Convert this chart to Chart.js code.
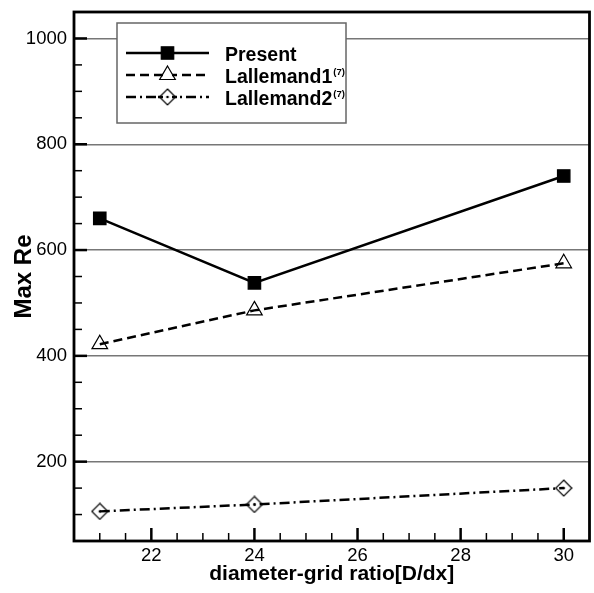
<!DOCTYPE html>
<html>
<head>
<meta charset="utf-8">
<script src="https://cdn.jsdelivr.net/npm/chart.js@4.4.0/dist/chart.umd.min.js"></script>
<style>
    html, body { margin: 0; padding: 0; background: #fff; overflow: hidden; }
    canvas { display: block; }
</style>
</head>
<body>
<canvas id="reChart" width="594" height="593"></canvas>
<script>
const ratios = [21, 24, 30];
const presentRe = [660, 538, 740];
const lallemand1Re = [422, 486, 575];
const lallemand2Re = [106, 119, 150];
const seriesNames = ['Present', 'Lallemand1', 'Lallemand2'];
const seriesRefs = ['', '(7)', '(7)'];
const xTickValues = [22, 24, 26, 28, 30];
const yTickValues = [200, 400, 600, 800, 1000];
const xMinorStep = 0.5;
const yMinorStep = 50;

const FONT = "'Liberation Sans', Arial, sans-serif";

function makeDiamond(size) {
    const c = document.createElement('canvas');
    c.width = c.height = size;
    const g = c.getContext('2d');
    const h = size / 2;
    g.strokeStyle = '#000';
    g.lineWidth = 1.2;
    g.beginPath();
    g.moveTo(h, 1);
    g.lineTo(size - 1, h);
    g.lineTo(h, size - 1);
    g.lineTo(1, h);
    g.closePath();
    g.stroke();
    g.fillStyle = '#000';
    g.beginPath();
    g.arc(h, h, 1.3, 0, Math.PI * 2);
    g.fill();
    return c;
}

const diamond = makeDiamond(18);

const toPoints = (ys) => ratios.map((x, i) => ({ x: x, y: ys[i] }));

const styles = [
    { dash: [], pointStyle: 'rect', radius: 8.8, fill: '#000' },
    { dash: [9, 5], pointStyle: 'triangle', radius: 9, fill: 'rgba(0,0,0,0)' },
    { dash: [10, 4, 2, 4], pointStyle: diamond, radius: 9, fill: 'rgba(0,0,0,0)' }
];

const noPadding = (scale) => {
    scale.paddingTop = 0;
    scale.paddingBottom = 0;
    scale.paddingLeft = 0;
    scale.paddingRight = 0;
};

const frameAndLegend = {
    id: 'frameAndLegend',
    afterDraw(chart) {
        const ctx = chart.ctx;
        const area = chart.chartArea;
        const xs = chart.scales.x;
        const ys = chart.scales.y;
        ctx.save();

        // legend box
        const bx = 117, by = 23, bw = 229, bh = 100;
        ctx.fillStyle = '#fff';
        ctx.fillRect(bx, by, bw, bh);
        ctx.strokeStyle = '#666';
        ctx.lineWidth = 1.5;
        ctx.strokeRect(bx, by, bw, bh);

        const rows = [53, 75, 97];
        seriesNames.forEach((name, i) => {
            const st = styles[i];
            const y = rows[i];
            ctx.strokeStyle = '#000';
            ctx.lineWidth = 2.5;
            ctx.setLineDash(st.dash);
            ctx.beginPath();
            ctx.moveTo(126, y);
            ctx.lineTo(209, y);
            ctx.stroke();
            ctx.setLineDash([]);
            if (i > 0) {
                // gap round the open marker, like the original key
                ctx.fillStyle = '#fff';
                ctx.fillRect(158, y - 9, 19, 18);
            }
            ctx.fillStyle = st.fill;
            ctx.lineWidth = 1.2;
            Chart.helpers.drawPoint(ctx, {
                pointStyle: st.pointStyle, radius: st.radius, rotation: 0, borderWidth: 1.2
            }, 167.5, y);
            if (i > 0) {
                ctx.lineWidth = 2.5;
                ctx.beginPath();
                ctx.moveTo(158, y);
                ctx.lineTo(163, y);
                ctx.moveTo(172, y);
                ctx.lineTo(177, y);
                ctx.stroke();
            }

            ctx.fillStyle = '#000';
            ctx.font = 'bold 19.5px ' + FONT;
            ctx.textBaseline = 'alphabetic';
            ctx.textAlign = 'left';
            const base = y + 8;
            ctx.fillText(name, 225, base);
            if (seriesRefs[i]) {
                const w = ctx.measureText(name).width;
                ctx.font = 'bold 9.5px ' + FONT;
                ctx.fillText(seriesRefs[i], 225 + w + 1, base - 8);
            }
        });

        // inward ticks
        ctx.strokeStyle = '#000';
        const yMajor = new Set(yTickValues);
        for (let v = ys.min + yMinorStep; v < ys.max; v += yMinorStep) {
            const py = ys.getPixelForValue(v);
            const major = yMajor.has(v);
            ctx.lineWidth = major ? 2.5 : 1.5;
            ctx.beginPath();
            ctx.moveTo(area.left, py);
            ctx.lineTo(area.left + (major ? 13 : 8), py);
            ctx.stroke();
        }
        const xMajor = new Set(xTickValues);
        for (let v = xs.min + xMinorStep; v < xs.max - 0.01; v += xMinorStep) {
            const px = xs.getPixelForValue(v);
            const major = xMajor.has(v);
            ctx.lineWidth = major ? 2.5 : 1.5;
            ctx.beginPath();
            ctx.moveTo(px, area.bottom);
            ctx.lineTo(px, area.bottom - (major ? 13 : 8));
            ctx.stroke();
        }

        // frame
        ctx.lineWidth = 2.8;
        ctx.strokeRect(area.left, area.top, area.right - area.left, area.bottom - area.top);
        ctx.restore();
    }
};

new Chart(document.getElementById('reChart'), {
    type: 'line',
    data: {
        datasets: [presentRe, lallemand1Re, lallemand2Re].map((ys, i) => ({
            label: seriesNames[i],
            data: toPoints(ys),
            borderColor: '#000',
            borderWidth: 2.5,
            borderDash: styles[i].dash,
            pointStyle: styles[i].pointStyle,
            pointRadius: styles[i].radius,
            pointBackgroundColor: styles[i].fill,
            pointBorderColor: '#000',
            pointBorderWidth: 1.2,
            tension: 0
        }))
    },
    options: {
        responsive: false,
        animation: false,
        devicePixelRatio: 1,
        layout: { autoPadding: false, padding: { top: 12, right: 4.5, left: 0, bottom: 0 } },
        plugins: {
            legend: { display: false },
            tooltip: { enabled: false }
        },
        scales: {
            x: {
                type: 'linear',
                min: 20.5,
                max: 30.5,
                afterBuildTicks: (scale) => { scale.ticks = xTickValues.map(v => ({ value: v })); },
                afterFit: (scale) => { scale.height = 52; noPadding(scale); },
                grid: { display: false, drawTicks: false },
                border: { display: false },
                ticks: {
                    color: '#000', padding: 4, font: { family: FONT, size: 18.5 },
                    callback: (v) => String(v)
                },
                title: {
                    display: true,
                    text: 'diameter-grid ratio[D/dx]',
                    color: '#000',
                    padding: { top: 0, bottom: 6 },
                    font: { family: FONT, size: 21, weight: 'bold' }
                }
            },
            y: {
                min: 50,
                max: 1050,
                afterBuildTicks: (scale) => { scale.ticks = yTickValues.map(v => ({ value: v })); },
                afterFit: (scale) => { scale.width = 74; noPadding(scale); },
                grid: { color: '#777', lineWidth: 1.5, drawTicks: false },
                border: { display: false },
                ticks: {
                    color: '#000', padding: 7, font: { family: FONT, size: 18.5 },
                    callback: (v) => String(v)
                },
                title: {
                    display: true,
                    text: 'Max Re',
                    color: '#000',
                    padding: { top: 10, bottom: 0 },
                    font: { family: FONT, size: 24, weight: 'bold' }
                }
            }
        }
    },
    plugins: [frameAndLegend]
});
</script>
</body>
</html>
